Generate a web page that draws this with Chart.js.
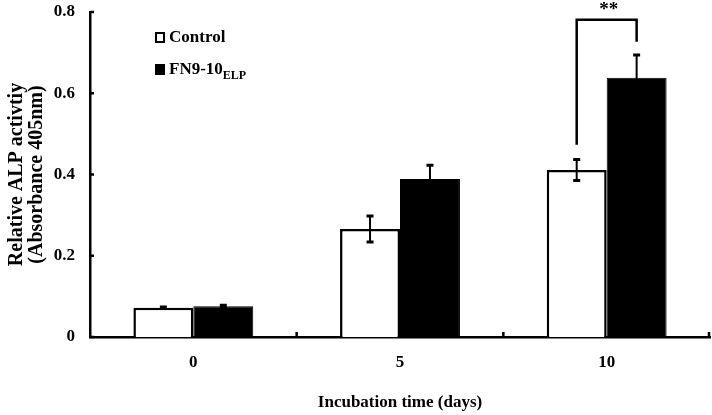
<!DOCTYPE html>
<html>
<head>
<meta charset="utf-8">
<script src="https://cdn.jsdelivr.net/npm/chart.js@4"></script>
<style>
  html, body { margin: 0; padding: 0; background: #fff; }
  #wrap { width: 712px; height: 415px; }
</style>
</head>
<body>
<div id="wrap"><canvas id="alpChart"></canvas></div>
<script>
const days = ['0', '5', '10'];
const controlMeans = [0.072, 0.266, 0.411];
const controlErrs = [0.002, 0.032, 0.026];
const fnMeans = [0.076, 0.389, 0.638];
const fnErrs = [0.002, 0.034, 0.056];

// significance bracket (day 10)
const sigIndex = 2;
const sigLabel = '**';
const sigTop = 0.781;
const sigLeftEnd = 0.473;
const sigRightEnd = 0.727;

const FONT = "'Liberation Serif', 'Times New Roman', serif";

// error bars, inner tick marks, bracket and the legend with a subscript
const extras = {
  id: 'extras',
  afterDatasetsDraw(chart) {
    const ctx = chart.ctx;
    const y = chart.scales.y;
    const x = chart.scales.x;
    const area = chart.chartArea;
    const errs = [controlErrs, fnErrs];
    const means = [controlMeans, fnMeans];

    ctx.save();
    ctx.strokeStyle = '#000';
    ctx.lineCap = 'butt';

    // error bars
    [0, 1].forEach(di => {
      chart.getDatasetMeta(di).data.forEach((bar, j) => {
        const top = y.getPixelForValue(means[di][j] + errs[di][j]);
        const bot = y.getPixelForValue(means[di][j] - errs[di][j]);
        ctx.lineWidth = 2;
        ctx.beginPath();
        ctx.moveTo(bar.x, top);
        ctx.lineTo(bar.x, bot);
        ctx.stroke();
        ctx.lineWidth = 3;
        ctx.beginPath();
        ctx.moveTo(bar.x - 3.5, top);
        ctx.lineTo(bar.x + 3.5, top);
        ctx.moveTo(bar.x - 3.5, bot);
        ctx.lineTo(bar.x + 3.5, bot);
        ctx.stroke();
      });
    });

    // inner ticks on y axis
    ctx.lineWidth = 2.5;
    [0, 0.2, 0.4, 0.6, 0.8].forEach(v => {
      const py = y.getPixelForValue(v);
      ctx.beginPath();
      ctx.moveTo(area.left, py);
      ctx.lineTo(area.left + 4, py);
      ctx.stroke();
    });
    // inner ticks on x axis at category boundaries
    const step = x.getPixelForValue(1) - x.getPixelForValue(0);
    for (let i = 0; i < days.length; i++) {
      const px = Math.min(x.getPixelForValue(i) + step / 2, area.right - 1);
      ctx.beginPath();
      ctx.moveTo(px, area.bottom);
      ctx.lineTo(px, area.bottom - 5);
      ctx.stroke();
    }

    // significance bracket
    const lx = chart.getDatasetMeta(0).data[sigIndex].x;
    const rx = chart.getDatasetMeta(1).data[sigIndex].x;
    const ty = y.getPixelForValue(sigTop);
    ctx.lineWidth = 2.5;
    ctx.lineJoin = 'miter';
    ctx.beginPath();
    ctx.moveTo(lx, y.getPixelForValue(sigLeftEnd));
    ctx.lineTo(lx, ty);
    ctx.lineTo(rx, ty);
    ctx.lineTo(rx, y.getPixelForValue(sigRightEnd));
    ctx.stroke();
    ctx.fillStyle = '#000';
    ctx.font = 'bold 19px ' + FONT;
    ctx.textAlign = 'center';
    ctx.textBaseline = 'alphabetic';
    ctx.fillText(sigLabel, (lx + rx) / 2 + 2, ty - 5);

    // legend
    ctx.textAlign = 'left';
    ctx.textBaseline = 'middle';
    ctx.lineWidth = 2;
    ctx.fillStyle = '#fff';
    ctx.fillRect(156, 33, 8, 9);
    ctx.strokeRect(156, 33, 8, 9);
    ctx.fillStyle = '#000';
    ctx.fillRect(155, 64, 10, 11);
    ctx.font = 'bold 17px ' + FONT;
    ctx.fillText('Control', 169, 38);
    ctx.fillText('FN9-10', 169, 70);
    const w = ctx.measureText('FN9-10').width;
    ctx.font = 'bold 12px ' + FONT;
    ctx.fillText('ELP', 169 + w, 76);
    ctx.restore();
  }
};

new Chart(document.getElementById('alpChart'), {
  type: 'bar',
  data: {
    labels: days,
    datasets: [
      {
        label: 'Control',
        data: controlMeans,
        backgroundColor: '#fff',
        borderColor: '#000',
        borderWidth: 2.5
      },
      {
        label: 'FN9-10ELP',
        data: fnMeans,
        backgroundColor: '#000',
        borderColor: '#000',
        borderWidth: 1
      }
    ]
  },
  options: {
    responsive: true,
    maintainAspectRatio: false,
    animation: false,
    categoryPercentage: 0.58,
    barPercentage: 1.0,
    layout: { padding: { left: 0, right: 2, top: 12, bottom: 0 } },
    plugins: {
      legend: { display: false },
      tooltip: { enabled: false }
    },
    scales: {
      x: {
        grid: { display: false, drawTicks: false },
        border: { display: true, color: '#000', width: 2.5 },
        ticks: {
          color: '#000',
          padding: 15,
          font: { family: FONT, size: 17, weight: 'bold' }
        },
        title: {
          display: true,
          text: 'Incubation time (days)',
          color: '#000',
          padding: { top: 0, bottom: 2 },
          font: { family: FONT, size: 17, weight: 'bold' }
        },
        afterFit(scale) { scale.height = 78; }
      },
      y: {
        min: 0,
        max: 0.8,
        grid: { display: false, drawTicks: false },
        border: { display: true, color: '#000', width: 2.5 },
        ticks: {
          stepSize: 0.2,
          color: '#000',
          padding: 15,
          font: { family: FONT, size: 17, weight: 'bold' },
          callback: v => (v === 0 ? '0' : v.toFixed(1))
        },
        title: {
          display: true,
          text: ['Relative ALP activtiy', '(Absorbance 405nm)'],
          color: '#000',
          padding: { top: 7, bottom: 0 },
          font: { family: FONT, size: 20, weight: 'bold', lineHeight: 1.0 }
        },
        afterFit(scale) {
          scale.width = 90;
          scale.paddingTop = 0;
          scale.paddingBottom = 0;
        }
      }
    }
  },
  plugins: [extras]
});
</script>
</body>
</html>
